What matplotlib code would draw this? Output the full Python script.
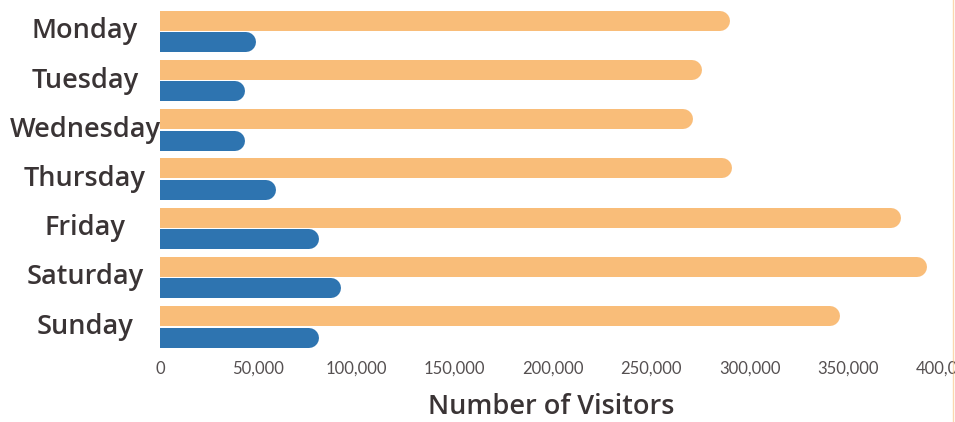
import matplotlib
matplotlib.use("Agg")
import matplotlib.pyplot as plt
import matplotlib.transforms as mtransforms
from matplotlib.ticker import FuncFormatter
import numpy as np

days = ["Monday", "Tuesday", "Wednesday", "Thursday", "Friday", "Saturday", "Sunday"]
visitors_orange = [290000, 276000, 271000, 291000, 377000, 390000, 346000]
visitors_blue = [49000, 43000, 43000, 59000, 81000, 92000, 81000]
xticks = [0, 50000, 100000, 150000, 200000, 250000, 300000, 350000, 400000]

ORANGE = "#F9BD79"
BLUE = "#2E74B0"
TEXT = "#3A3435"
TICK = "#555051"

W, H, DPI = 955, 422, 100
fig = plt.figure(figsize=(W / DPI, H / DPI), dpi=DPI)
ax = fig.add_axes([160 / W, 1 - 355 / H, (955 - 160) / W, (355 - 5) / H])

ax.set_xlim(0, 404500)
ax.set_ylim(6.57, -0.538)

bar_px = 20
lw = bar_px * 72 / DPI
r_in = (bar_px / 2) / DPI
shift = ax.transData + mtransforms.ScaledTranslation(-r_in, 0, fig.dpi_scale_trans)

y = np.arange(len(days))
off = 0.218
for yi, v in zip(y - off, visitors_orange):
    ax.plot([0, v], [yi, yi], color=ORANGE, lw=lw, solid_capstyle="round",
            transform=shift, clip_on=True)
for yi, v in zip(y + off, visitors_blue):
    ax.plot([0, v], [yi, yi], color=BLUE, lw=lw, solid_capstyle="round",
            transform=shift, clip_on=True)

for s in ax.spines.values():
    s.set_visible(False)

ax.set_yticks(y - 0.075)
ax.set_yticklabels(days, fontfamily="Open Sans", fontweight="semibold", fontsize=19.5, color=TEXT)
for lab in ax.get_yticklabels():
    lab.set_ha("center")
ax.tick_params(axis="y", length=0, pad=54)

ax.set_xticks(xticks)
ax.xaxis.set_major_formatter(FuncFormatter(lambda v, p: f"{int(v):,}"))
ax.tick_params(axis="x", length=0, pad=4, labelsize=12, labelcolor=TICK)
for lab in ax.get_xticklabels():
    lab.set_fontfamily("Lato")

ax.set_xlabel("Number of Visitors", fontfamily="Open Sans", fontweight="semibold",
              fontsize=19.5, color=TEXT)
ax.xaxis.label.set_va("center")
ax.xaxis.set_label_coords((551 - 160) / (955 - 160), -(407 - 355) / 350)

fig.add_artist(plt.Line2D([953 / W, 953 / W], [0, 1], color=ORANGE, lw=1, alpha=0.6))

fig.savefig("out.png", dpi=DPI)
